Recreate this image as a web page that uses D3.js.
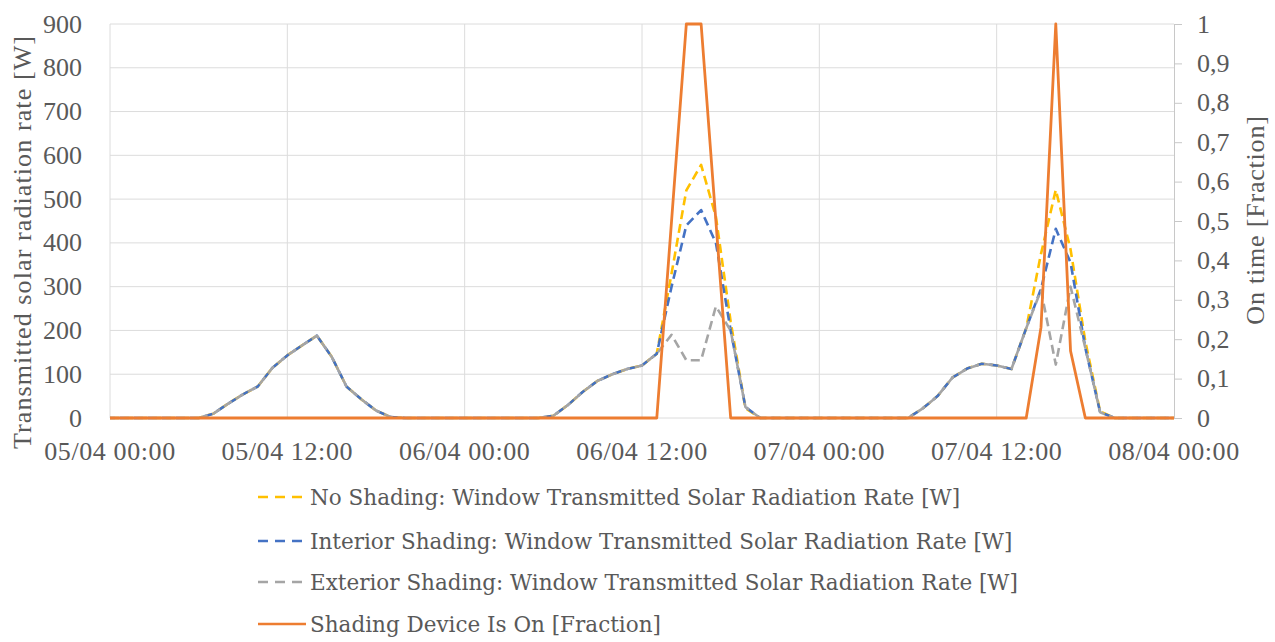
<!DOCTYPE html>
<html><head><meta charset="utf-8">
<script src="https://cdn.jsdelivr.net/npm/d3@7"></script>
<style>body{margin:0;background:#fff;}svg{display:block;}</style>
</head><body>
<svg id="c" width="1275" height="642"></svg>
<script>
const hours = [0,1,2,3,4,5,6,7,8,9,10,11,12,13,14,15,16,17,18,19,20,21,22,23,24,25,26,27,28,29,30,31,32,33,34,35,36,37,38,39,40,41,42,43,44,45,46,47,48,49,50,51,52,53,54,55,56,57,58,59,60,61,62,63,64,65,66,67,68,69,70,71,72];
const noShading = [0,0,0,0,0,0, 0,10,33,54,72,115,143,166,188,140,72,43,17,2, 0,0,0,0,0,0,0,0,0,0, 5,30,60,85,100,112,120,147,330,520,578,460,220,22, 0,0,0,0,0,0,0,0,0,0, 0,22,50,92,113,124,120,112,205,375,521,385,175,15, 0,0,0,0,0];
const interiorShading = [0,0,0,0,0,0, 0,10,33,54,72,115,143,166,188,140,72,43,17,2, 0,0,0,0,0,0,0,0,0,0, 5,30,60,85,100,112,120,147,300,440,475,400,200,25, 0,0,0,0,0,0,0,0,0,0, 0,22,50,92,113,124,120,112,205,295,432,355,160,13, 0,0,0,0,0];
const exteriorShading = [0,0,0,0,0,0, 0,10,33,54,72,115,143,166,188,140,72,43,17,2, 0,0,0,0,0,0,0,0,0,0, 5,30,60,85,100,112,120,147,190,132,132,255,200,25, 0,0,0,0,0,0,0,0,0,0, 0,22,50,92,113,124,120,112,205,292,122,300,160,13, 0,0,0,0,0];
const deviceOn = [0,0,0,0,0,0,0,0,0,0,0,0,0,0,0,0,0,0,0,0,0,0,0,0,0,0,0,0,0,0,0,0,0,0,0,0,0,0, 0.5,1,1,0.5, 0,0,0,0,0,0,0,0,0,0,0,0,0,0,0,0,0,0,0,0,0, 0.23,1,0.17, 0,0,0,0,0,0,0];
const xTickHours = [0,12,24,36,48,60,72];
const xTickLabels = ["05/04 00:00","05/04 12:00","06/04 00:00","06/04 12:00","07/04 00:00","07/04 12:00","08/04 00:00"];
const leftTicks = [0,100,200,300,400,500,600,700,800,900];
const rightTicks = [0,0.1,0.2,0.3,0.4,0.5,0.6,0.7,0.8,0.9,1];
const rightTickLabels = ["0","0,1","0,2","0,3","0,4","0,5","0,6","0,7","0,8","0,9","1"];
const seriesNames = ["No Shading: Window Transmitted Solar Radiation Rate [W]","Interior Shading: Window Transmitted Solar Radiation Rate [W]","Exterior Shading: Window Transmitted Solar Radiation Rate [W]","Shading Device Is On [Fraction]"];

const svg = d3.select("#c");
const L = 110, R = 1174, T = 24, B = 418;
const x = d3.scaleLinear().domain([0,72]).range([L,R]);
const y = d3.scaleLinear().domain([0,900]).range([B,T]);
const y2 = d3.scaleLinear().domain([0,1]).range([B,T]);
const axisFont = "'Liberation Serif', serif";
const txt = "#595959";
const fs = "26px";

// gridlines
svg.append("g").selectAll("line").data(leftTicks).join("line")
  .attr("x1",L).attr("x2",R).attr("y1",d=>y(d)).attr("y2",d=>y(d))
  .attr("stroke","#dcdcdc").attr("stroke-width",1);
svg.append("g").selectAll("line").data(xTickHours.slice(0,6)).join("line")
  .attr("x1",d=>x(d)).attr("x2",d=>x(d)).attr("y1",T).attr("y2",B)
  .attr("stroke","#dcdcdc").attr("stroke-width",1);

// right axis (line + ticks)
const ra = svg.append("g").attr("transform",`translate(${R},0)`)
  .call(d3.axisRight(y2).tickValues(rightTicks).tickSize(8).tickFormat(""));
ra.select(".domain").attr("stroke","#c8c8c8");
ra.selectAll(".tick line").attr("stroke","#c8c8c8");
ra.selectAll(".tick text").remove();

// right labels
svg.append("g").selectAll("text").data(rightTicks).join("text")
  .attr("x",1197).attr("y",d=>y2(d)).attr("dominant-baseline","central").attr("text-anchor","start")
  .attr("fill",txt).style("font-family",axisFont).style("font-size",fs)
  .text((d,i)=>rightTickLabels[i]);

// left labels
svg.append("g").selectAll("text").data(leftTicks).join("text")
  .attr("x",82).attr("y",d=>y(d)).attr("dominant-baseline","central").attr("text-anchor","end")
  .attr("fill",txt).style("font-family",axisFont).style("font-size",fs)
  .text(d=>d3.format("d")(d));

// bottom labels
svg.append("g").selectAll("text").data(xTickHours).join("text")
  .attr("x",d=>x(d)).attr("y",451).attr("dominant-baseline","central").attr("text-anchor","middle")
  .attr("fill",txt).style("font-family",axisFont).style("font-size",fs).style("letter-spacing","0.6px")
  .text((d,i)=>xTickLabels[i]);

// axis titles
svg.append("text").attr("transform","translate(22,242) rotate(-90)").attr("text-anchor","middle")
  .attr("dominant-baseline","central").attr("fill",txt).style("font-family",axisFont).style("font-size",fs)
  .style("letter-spacing","1.1px")
  .text("Transmitted solar radiation rate [W]");
svg.append("text").attr("transform","translate(1255,220) rotate(-90)").attr("text-anchor","middle")
  .attr("dominant-baseline","central").attr("fill",txt).style("font-family",axisFont).style("font-size",fs)
  .style("letter-spacing","0.8px")
  .text("On time [Fraction]");

// lines
const line = d3.line().x((d,i)=>x(hours[i])).y(d=>y(d));
const line2 = d3.line().x((d,i)=>x(hours[i])).y(d=>y2(d));
const styles = [
  {data:noShading, color:"#FFC000", off:0},
  {data:interiorShading, color:"#4472C4", off:4},
  {data:exteriorShading, color:"#A5A5A5", off:9}
];
styles.forEach(s=>{
  svg.append("path").datum(s.data).attr("d",line).attr("fill","none")
    .attr("stroke",s.color).attr("stroke-width",2.6).attr("stroke-dasharray","9,5")
    .attr("stroke-dashoffset",s.off).attr("stroke-linejoin","round");
});
svg.append("path").datum(deviceOn).attr("d",line2).attr("fill","none")
  .attr("stroke","#ED7D31").attr("stroke-width",2.8).attr("stroke-linejoin","round");

// legend
const legY = [497,541,582,624];
const legColors = ["#FFC000","#4472C4","#A5A5A5","#ED7D31"];
const lg = svg.append("g");
seriesNames.forEach((n,i)=>{
  lg.append("line").attr("x1",258).attr("x2",306).attr("y1",legY[i]).attr("y2",legY[i])
    .attr("stroke",legColors[i]).attr("stroke-width",2.6)
    .attr("stroke-dasharray", i<3 ? "10,7" : null);
  lg.append("text").attr("x",310).attr("y",legY[i]).attr("dominant-baseline","central")
    .attr("fill",txt).style("font-family","'DejaVu Serif', serif").style("font-size","21.5px").text(n);
});
</script>
</body></html>
